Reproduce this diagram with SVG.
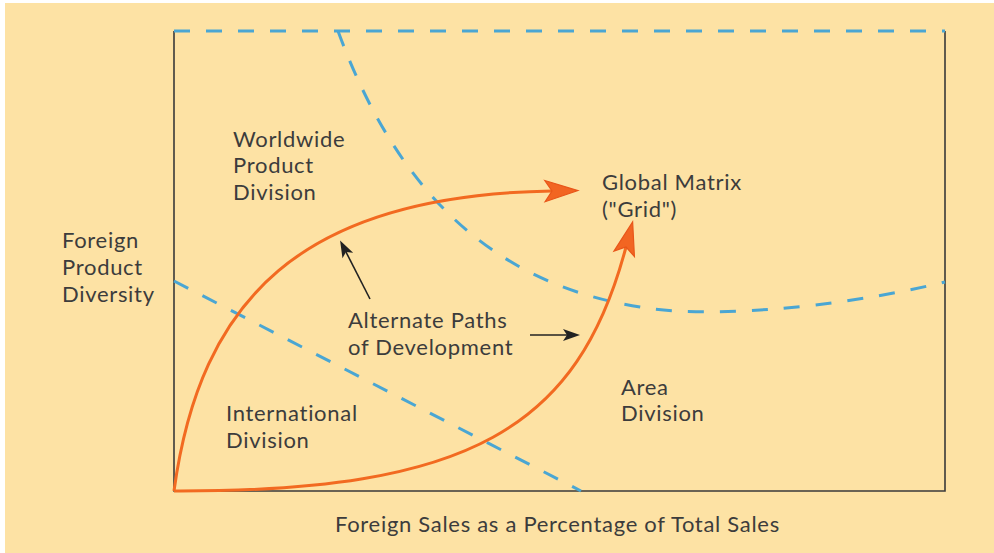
<svg xmlns="http://www.w3.org/2000/svg" width="994" height="553" viewBox="0 0 994 553">
  <defs>
    <style>
      .lbl { font-family: Lato, "Liberation Sans", sans-serif; font-size: 22px; font-weight: 400; letter-spacing: 0.7px; fill: #3c3c3c; }
      .dash { fill: none; stroke: #4aa6d3; stroke-width: 3; stroke-dasharray: 16 16; }
      .path { fill: none; stroke: #f26a21; stroke-width: 3; }
      .ptr { fill: none; stroke: #222222; stroke-width: 1.6; }
      .axis { fill: none; stroke: #3a3a3a; stroke-width: 1.6; }
    </style>
    <marker id="orangeHead" markerUnits="userSpaceOnUse" markerWidth="40" markerHeight="30" viewBox="-2 -12 34 24" refX="6" refY="0" orient="auto">
      <path d="M0,-9 L28,0 L0,9 L6,0 Z" fill="#f26522" stroke="#e8561a" stroke-width="1"/>
    </marker>
    <marker id="blackHead" markerUnits="userSpaceOnUse" markerWidth="24" markerHeight="16" viewBox="-1 -8 22 16" refX="4" refY="0" orient="auto">
      <path d="M0,-6 L17,0 L0,6 L4,0 Z" fill="#222222"/>
    </marker>
  </defs>
  <rect x="0" y="0" width="994" height="553" fill="#ffffff"/>
  <rect x="5" y="3" width="989" height="550" fill="#fde2a4"/>

  <g id="frame">
    <path class="axis" d="M174,31 L174,491 L945,491 L945,31"/>
  </g>

  <g id="boundaries">
    <path class="dash" d="M174,31 L945,31"/>
    <path class="dash" d="M338,31 C400,200 500,285 640,307 C700,318 830,310 945,282"/>
    <path class="dash" d="M174,281 L581,491"/>
  </g>

  <g id="connectors">
    <path class="path" d="M174,491 C200,300 300,195 552,191" marker-end="url(#orangeHead)"/>
    <path class="path" d="M174,491 C470,492 578,428 626,247" marker-end="url(#orangeHead)"/>
    <path class="ptr" d="M370,299 L346,252" marker-end="url(#blackHead)"/>
    <path class="ptr" d="M530,335 L567,335" marker-end="url(#blackHead)"/>
  </g>

  <g id="worldwide-product-division">
    <text class="lbl" x="233" y="147">Worldwide</text>
    <text class="lbl" x="233" y="173">Product</text>
    <text class="lbl" x="233" y="200">Division</text>
  </g>
  <g id="foreign-product-diversity">
    <text class="lbl" x="62" y="248">Foreign</text>
    <text class="lbl" x="62" y="275">Product</text>
    <text class="lbl" x="62" y="302">Diversity</text>
  </g>
  <g id="global-matrix">
    <text class="lbl" x="602" y="190">Global Matrix</text>
    <text class="lbl" x="602" y="217">("Grid")</text>
  </g>
  <g id="alternate-paths">
    <text class="lbl" x="348" y="328">Alternate Paths</text>
    <text class="lbl" x="348" y="355">of Development</text>
  </g>
  <g id="international-division">
    <text class="lbl" x="226" y="421">International</text>
    <text class="lbl" x="226" y="448">Division</text>
  </g>
  <g id="area-division">
    <text class="lbl" x="621" y="395">Area</text>
    <text class="lbl" x="621" y="421">Division</text>
  </g>
  <g id="x-axis-label">
    <text class="lbl" x="335" y="532">Foreign Sales as a Percentage of Total Sales</text>
  </g>
</svg>
